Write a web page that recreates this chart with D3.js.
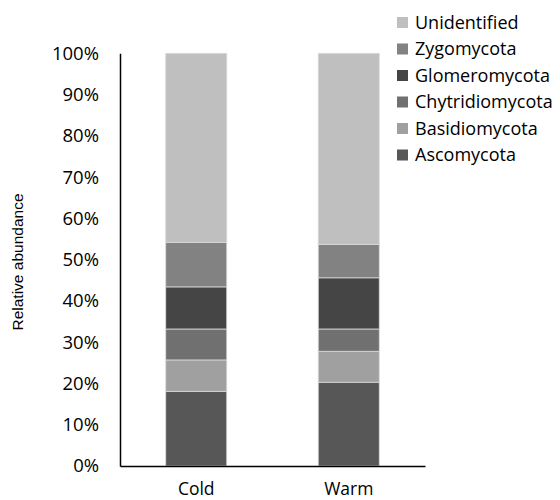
<!DOCTYPE html>
<html><head><meta charset="utf-8">
<script src="https://cdn.jsdelivr.net/npm/d3@7"></script>
<style>body{margin:0;background:#fff}</style>
</head><body>
<svg id="c" width="560" height="500"></svg>
<script>
const categories = ["Cold", "Warm"];
const seriesNames = ["Ascomycota", "Basidiomycota", "Chytridiomycota", "Glomeromycota", "Zygomycota", "Unidentified"];
const ascomycota = [18.1, 20.3];
const basidiomycota = [7.6, 7.5];
const chytridiomycota = [7.5, 5.4];
const glomeromycota = [10.2, 12.4];
const zygomycota = [10.8, 8.1];
const unidentified = [45.8, 46.3];
const colors = ["#575757", "#a0a0a0", "#707070", "#454545", "#828282", "#bfbfbf"];
const yTicks = [0, 10, 20, 30, 40, 50, 60, 70, 80, 90, 100];

const seriesValues = [ascomycota, basidiomycota, chytridiomycota, glomeromycota, zygomycota, unidentified];
const rows = categories.map((c, i) => {
  const r = {cat: c};
  seriesNames.forEach((s, j) => r[s] = seriesValues[j][i]);
  return r;
});
const stack = d3.stack().keys(seriesNames)(rows);

const svg = d3.select("#c");
const x = d3.scaleBand().domain(categories).range([120, 425]).paddingInner(0.6).paddingOuter(0.3);
const y = d3.scaleLinear().domain([0, 100]).range([466, 53.3]);
const font = "'Open Sans', sans-serif";

svg.append("g").selectAll("g").data(stack).join("g")
  .attr("fill", (d, i) => colors[i])
  .selectAll("rect").data(d => d).join("rect")
  .attr("x", d => x(d.data.cat))
  .attr("width", x.bandwidth())
  .attr("y", d => y(d[1]))
  .attr("height", d => y(d[0]) - y(d[1]))
  .attr("stroke", "#d9d9d9").attr("stroke-width", 0.8);

const yAxis = svg.append("g").attr("transform", "translate(120,0)")
  .call(d3.axisLeft(y).tickValues(yTicks).tickFormat(d => d + "%").tickSize(0).tickPadding(21));
yAxis.select(".domain").attr("stroke", "#000").attr("stroke-width", 1.5);
yAxis.selectAll("text").attr("font-family", font).attr("font-size", 18.5).attr("fill", "#000");

const xAxis = svg.append("g").attr("transform", "translate(0,466)")
  .call(d3.axisBottom(x).tickSize(0).tickPadding(17));
xAxis.select(".domain").attr("stroke", "#000").attr("stroke-width", 1.5);
xAxis.selectAll("text").attr("font-family", font).attr("font-size", 17.5).attr("fill", "#000");

svg.append("text").attr("transform", "translate(18,262) rotate(-90)")
  .attr("text-anchor", "middle").attr("dy", "0.35em").attr("font-family", "'Liberation Sans', Arial, sans-serif")
  .attr("font-size", 15.5).text("Relative abundance");

const legendOrder = seriesNames.slice().reverse();
const lg = svg.append("g").selectAll("g").data(legendOrder).join("g")
  .attr("transform", (d, i) => `translate(397,${22.5 + i * 26.5})`);
lg.append("rect").attr("x", 0).attr("y", -5.5).attr("width", 11).attr("height", 11)
  .attr("fill", d => colors[seriesNames.indexOf(d)]);
lg.append("text").attr("x", 18).attr("dy", "0.35em").attr("font-family", font)
  .attr("font-size", 18).text(d => d);
</script>
</body></html>
